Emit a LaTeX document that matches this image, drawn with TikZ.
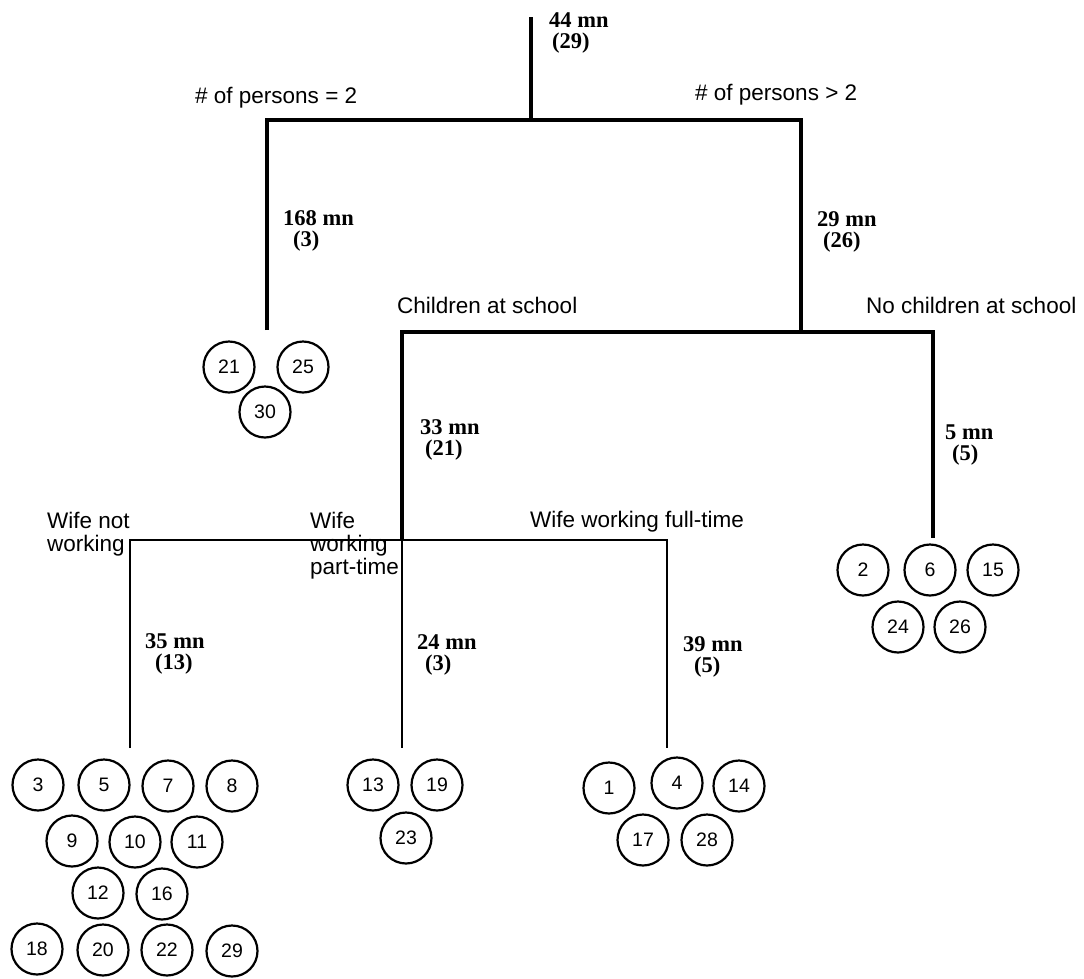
\documentclass[tikz,border=0pt]{standalone}
\usepackage{fontspec}
\setmainfont{Liberation Sans}
\newfontfamily\serifnum{Liberation Serif}

\begin{document}
\begin{tikzpicture}[
  x=1pt, y=-1pt,
  lbl/.style={inner sep=0pt, anchor=west, align=left, font=\fontsize{22.5}{23}\selectfont},
  mn/.style={inner sep=0pt, anchor=west, align=left, font=\serifnum\bfseries\fontsize{22.5}{21}\selectfont},
  hh/.style={draw, circle, line width=2.2pt, minimum size=51pt, inner sep=0pt, font=\fontsize{19.5}{19.5}\selectfont},
  trunk/.style={line width=3.8pt},
  twig/.style={line width=2.2pt}
]
\useasboundingbox (0,0) rectangle (1084,978);

% split points of the tree
\coordinate (top) at (531,17);
\coordinate (s1) at (531,120);
\coordinate (p2) at (267,120);
\coordinate (p3) at (801,120);
\coordinate (p2end) at (267,330);
\coordinate (p3end) at (801,332);
\coordinate (c1) at (402,332);
\coordinate (c2) at (933,332);
\coordinate (c2end) at (933,538);
\coordinate (w1) at (130,540);
\coordinate (w2) at (402,540);
\coordinate (w3) at (667,540);
\coordinate (w1end) at (130,748);
\coordinate (w2end) at (402,748);
\coordinate (w3end) at (667,748);

% labels
\node[mn] (root) at (549,33) {44 mn\\\hspace*{3pt}(29)};
\node[lbl] (np2) at (195,98) {\# of persons = 2};
\node[lbl] (np3) at (695,95) {\# of persons > 2};
\node[mn] (m168) at (283,231) {168 mn\\\hspace*{10pt}(3)};
\node[mn] (m29) at (817,232) {29 mn\\\hspace*{6pt}(26)};
\node[lbl] (kids) at (397,305) {Children at school};
\node[lbl] (nokids) at (866,305) {No children at school};
\node[mn] (m33) at (420,440) {33 mn\\\hspace*{5pt}(21)};
\node[mn] (m5) at (945,445) {5 mn\\\hspace*{7pt}(5)};
\node[lbl] (wnot) at (47,534) {Wife not\\working};
\node[lbl] (wpart) at (310,546) {Wife\\working\\part-time};
\node[lbl] (wfull) at (530,522) {Wife working full-time};
\node[mn] (m35) at (145,654) {35 mn\\\hspace*{10pt}(13)};
\node[mn] (m24) at (417,655) {24 mn\\\hspace*{8pt}(3)};
\node[mn] (m39) at (683,657) {39 mn\\\hspace*{11pt}(5)};

% households
\node[hh] (h21) at (229,367) {21};
\node[hh] (h25) at (303,367) {25};
\node[hh] (h30) at (265,412) {30};

\node[hh] (h2) at (863,570) {2};
\node[hh] (h6) at (930,570) {6};
\node[hh] (h15) at (993,570) {15};
\node[hh] (h24) at (898,627) {24};
\node[hh] (h26) at (960,627) {26};

\node[hh] (h3) at (38,785) {3};
\node[hh] (h5) at (104,785) {5};
\node[hh] (h7) at (168,786) {7};
\node[hh] (h8) at (232,786) {8};
\node[hh] (h9) at (72,841) {9};
\node[hh] (h10) at (135,842) {10};
\node[hh] (h11) at (197,842) {11};
\node[hh] (h12) at (98,893) {12};
\node[hh] (h16) at (162,894) {16};
\node[hh] (h18) at (37,949) {18};
\node[hh] (h20) at (103,950) {20};
\node[hh] (h22) at (167,950) {22};
\node[hh] (h29) at (232,951) {29};

\node[hh] (h13) at (373,785) {13};
\node[hh] (h19) at (437,785) {19};
\node[hh] (h23) at (406,838) {23};

\node[hh] (h1) at (609,788) {1};
\node[hh] (h4) at (677,783) {4};
\node[hh] (h14) at (739,786) {14};
\node[hh] (h17) at (643,840) {17};
\node[hh] (h28) at (707,840) {28};

% branches
\draw[trunk] (top) -- (s1);
\draw[trunk] (p2end) -- (p2) -- (p3) -- (p3end);
\draw[trunk] (w2) -- (c1) -- (c2) -- (c2end);
\draw[twig] (w1end) -- (w1) -- (w3) -- (w3end);
\draw[twig] (w2) -- (w2end);
\end{tikzpicture}
\end{document}
